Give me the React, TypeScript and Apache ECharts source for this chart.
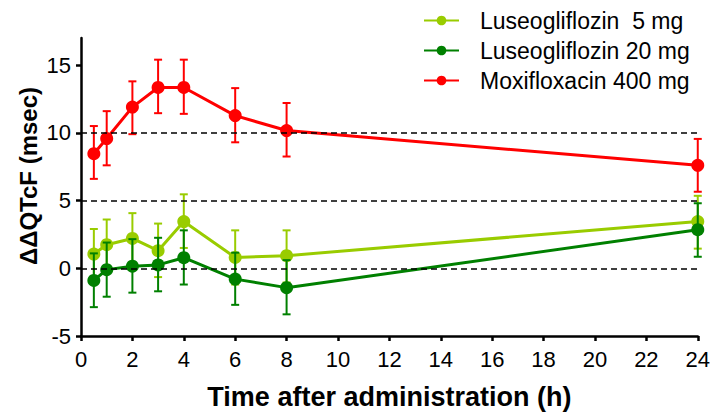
import React, { useEffect, useRef } from "react";
import * as echarts from "echarts";

const times = [0.5, 1, 2, 3, 4, 6, 8, 24];
const xTicks = [0, 2, 4, 6, 8, 10, 12, 14, 16, 18, 20, 22, 24];
const yTicks = [-5, 0, 5, 10, 15];
const refLines = [0, 5, 10];

const seriesNames = ["Luseogliflozin  5 mg", "Luseogliflozin 20 mg", "Moxifloxacin 400 mg"];
const seriesColors = ["#99cc00", "#008000", "#ff0000"];
const yTitle = "ΔΔQTcF (msec)";
const xTitle = "Time after administration (h)";

const luse5Mean = [1.05, 1.74, 2.2, 1.3, 3.45, 0.8, 0.93, 3.45];
const luse5Lo = [-0.85, -0.2, 0.25, -0.65, 1.5, -1.2, -1.05, 1.45];
const luse5Hi = [2.9, 3.6, 4.07, 3.3, 5.46, 2.8, 2.8, 5.35];

const luse20Mean = [-0.9, -0.1, 0.15, 0.25, 0.78, -0.8, -1.43, 2.85];
const luse20Lo = [-2.87, -2.1, -1.8, -1.7, -1.2, -2.7, -3.4, 0.85];
const luse20Hi = [1.1, 1.9, 2.15, 2.25, 2.8, 1.15, 0.6, 4.8];

const moxiMean = [8.46, 9.58, 11.9, 13.35, 13.35, 11.27, 10.17, 7.6];
const moxiLo = [6.6, 7.6, 9.9, 11.45, 11.4, 9.3, 8.25, 5.65];
const moxiHi = [10.5, 11.6, 13.8, 15.4, 15.4, 13.3, 12.2, 9.55];

const means = [luse5Mean, luse20Mean, moxiMean];
const los = [luse5Lo, luse20Lo, moxiLo];
const his = [luse5Hi, luse20Hi, moxiHi];

const FONT = "Liberation Sans, Arial, sans-serif";

export default function App() {
  const ref = useRef<HTMLDivElement>(null);
  useEffect(() => {
    if (!ref.current) return;
    const chart = echarts.init(ref.current, undefined, { renderer: "svg" });

    const errorSeries = means.map((_, si) => ({
      type: "custom",
      name: seriesNames[si] + " err",
      z: 2 + si,
      silent: true,
      data: times.map((t, i) => [t, los[si][i], his[si][i]]),
      encode: { x: 0, y: [1, 2] },
      renderItem: (params: any, api: any) => {
        const x = api.value(0);
        const lo = api.coord([x, api.value(1)]);
        const hi = api.coord([x, api.value(2)]);
        const hw = 4;
        const style = { stroke: seriesColors[si], lineWidth: 2 };
        return {
          type: "group",
          children: [
            { type: "line", shape: { x1: lo[0], y1: lo[1], x2: hi[0], y2: hi[1] }, style },
            { type: "line", shape: { x1: lo[0] - hw, y1: lo[1], x2: lo[0] + hw, y2: lo[1] }, style },
            { type: "line", shape: { x1: hi[0] - hw, y1: hi[1], x2: hi[0] + hw, y2: hi[1] }, style },
          ],
        };
      },
    }));

    const lineSeries = means.map((m, si) => ({
      type: "line",
      name: seriesNames[si],
      z: 2 + si,
      data: times.map((t, i) => [t, m[i]]),
      symbol: "circle",
      symbolSize: 13,
      itemStyle: { color: seriesColors[si] },
      lineStyle: { color: seriesColors[si], width: 3 },
    }));

    chart.setOption({
      animation: false,
      grid: { left: 81, right: 15, top: 38, bottom: 78 },
      legend: {
        data: seriesNames,
        orient: "vertical",
        left: 418,
        top: 4,
        itemWidth: 35,
        itemHeight: 12,
        itemGap: 7,
        textStyle: { fontFamily: FONT, fontSize: 23, color: "#000", padding: [0, 0, 0, 16] },
      },
      graphic: [
        {
          type: "text",
          x: 28,
          y: 176,
          rotation: Math.PI / 2,
          style: {
            text: yTitle,
            fontFamily: FONT,
            fontSize: 24,
            fontWeight: "bold",
            fill: "#000",
            align: "center",
            verticalAlign: "middle",
          },
        },
      ],
      xAxis: {
        type: "value",
        min: 0,
        max: 24,
        interval: 2,
        name: xTitle,
        nameLocation: "middle",
        nameGap: 47,
        nameTextStyle: { fontFamily: FONT, fontSize: 27, fontWeight: "bold", color: "#000" },
        axisLine: { onZero: false, lineStyle: { color: "#000", width: 2.5 } },
        axisTick: { show: true, length: 5, lineStyle: { color: "#000", width: 2.5 }, customValues: xTicks },
        axisLabel: { fontFamily: FONT, fontSize: 22, color: "#000", margin: 12, customValues: xTicks },
        splitLine: { show: false },
      },
      yAxis: {
        type: "value",
        min: -5,
        max: 17,
        interval: 5,
        axisLine: { show: true, onZero: false, lineStyle: { color: "#000", width: 2.5 } },
        axisTick: { show: true, length: 5, lineStyle: { color: "#000", width: 2.5 }, customValues: yTicks },
        axisLabel: { fontFamily: FONT, fontSize: 22, color: "#000", margin: 10, customValues: yTicks },
        splitLine: { show: false },
      },
      series: [
        {
          type: "line",
          name: "ref",
          data: [],
          z: 1,
          silent: true,
          markLine: {
            silent: true,
            symbol: "none",
            label: { show: false },
            lineStyle: { color: "#000", type: [6, 4], width: 1.5 },
            data: refLines.map((v) => ({ yAxis: v })),
          },
        },
        ...errorSeries,
        ...lineSeries,
      ],
    });
    return () => chart.dispose();
  }, []);
  return <div ref={ref} style={{ width: 713, height: 415, position: "absolute", left: 0, top: 0 }} />;
}
